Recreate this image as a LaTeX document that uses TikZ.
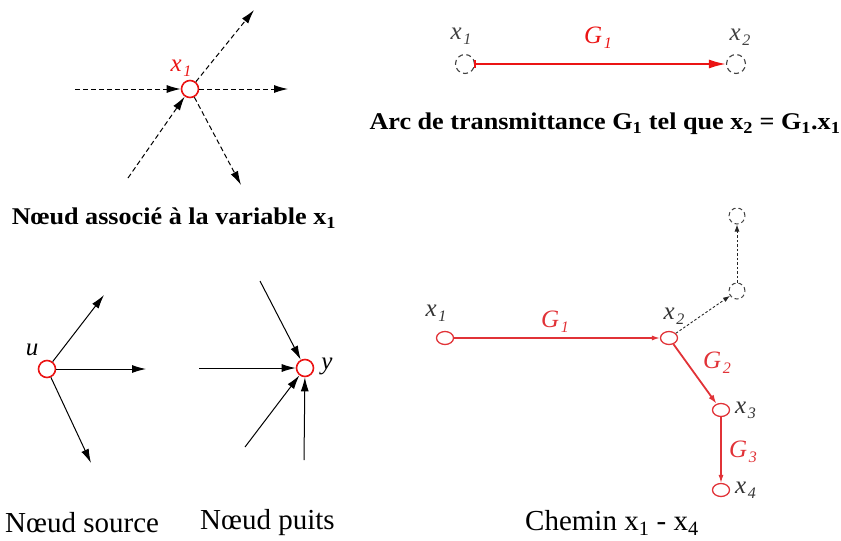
\documentclass[tikz,border=0pt]{standalone}
\usepackage{fontspec}
\setmainfont{Liberation Serif}
\usetikzlibrary{arrows.meta,shapes.geometric}
\definecolor{rd}{RGB}{235,20,20}
\definecolor{rdp}{RGB}{225,50,55}
\newcommand{\vr}[2]{\textit{#1}\kern1.5pt\raisebox{-0.2em}{\fontsize{16}{16}\selectfont\itshape #2}}
\tikzset{
  rnode/.style={circle,draw=rd,line width=1.6pt,minimum size=17pt,inner sep=0pt,fill=white},
  enode/.style={ellipse,draw=rdp,line width=1.3pt,minimum width=17pt,minimum height=13pt,inner sep=0pt},
  dnode/.style={circle,draw=black!75,line width=1.1pt,minimum size=19pt,inner sep=0pt,dash pattern=on 5pt off 3.5pt},
  dsmall/.style={circle,draw=black!75,line width=1pt,minimum size=16pt,inner sep=0pt,dash pattern=on 4pt off 3pt},
  hd/.style={-{Latex[length=14pt,width=8pt]}},
  darr/.style={hd,line width=1pt,dash pattern=on 5pt off 3pt},
  sarr/.style={hd,line width=1pt},
  lbl/.style={font=\fontsize{25}{25}\selectfont,inner sep=0pt},
  captxt/.style={font=\fontsize{24}{24}\selectfont\bfseries,inner sep=0pt,xscale=1.09},
  capn/.style={font=\fontsize{29}{29}\selectfont,inner sep=0pt},
}
\begin{document}
\begin{tikzpicture}[x=1pt,y=-1pt]
\useasboundingbox (0,0) rectangle (841,541);
% Panel 1
\node[rnode] (n1) at (190,89) {};
\node[lbl,text=rd] at (181,68) {\vr{x}{1}};
\coordinate (a1) at (75,89);
\coordinate (a2) at (288,89);
\coordinate (a3) at (254,10);
\coordinate (a4) at (128,178);
\coordinate (a5) at (241,185);
\draw[darr] (a1) -- (n1);
\draw[darr] (n1) -- (a2);
\draw[darr] (n1) -- (a3);
\draw[darr] (a4) -- (n1);
\draw[darr] (n1) -- (a5);
\node[captxt] at (174,218) {Nœud associé à la variable x\textsubscript{1}};
% Panel 2
\node[dnode] (p1) at (465,64) {};
\node[dnode] (p2) at (736,64) {};
\draw[-{Latex[length=17pt,width=9pt]},draw=rd,fill=rd,line width=1.8pt] (p1) -- (p2);
\draw[rd,line width=1.5pt] (p1.east) ++(0,-4) -- ++(0,8);
\node[lbl,text=black!75] at (461,36) {\vr{x}{1}};
\node[lbl,text=rd] at (598,38) {\vr{G}{1}};
\node[lbl,text=black!75] at (740,37) {\vr{x}{2}};
\node[captxt] at (605,124) {Arc de transmittance G\textsubscript{1} tel que x\textsubscript{2} = G\textsubscript{1}.x\textsubscript{1}};
% Panel 3 source
\node[rnode] (u) at (47,369) {};
\node[lbl] at (32,350) {\textit{u}};
\coordinate (b1) at (104,295);
\coordinate (b2) at (146,369);
\coordinate (b3) at (91,463);
\draw[sarr] (u) -- (b1);
\draw[sarr] (u) -- (b2);
\draw[sarr] (u) -- (b3);
% Panel 3 sink
\node[rnode] (y) at (305,368) {};
\node[lbl] at (327,366) {\textit{y}};
\coordinate (c1) at (260,281);
\coordinate (c2) at (199,368);
\coordinate (c3) at (245,447);
\coordinate (c4) at (304,460);
\draw[sarr] (c1) -- (y);
\draw[sarr] (c2) -- (y);
\draw[sarr] (c3) -- (y);
\draw[sarr] (c4) -- (y);
\node[capn,anchor=west] at (5,523) {Nœud source};
\node[capn,anchor=west] at (200,523) {Nœud puits};
% Panel 4
\node[enode] (q1) at (445,338) {};
\node[enode] (q2) at (669,338) {};
\node[enode] (q3) at (721,410) {};
\node[enode] (q4) at (721,490) {};
\node[dsmall] (q5) at (737,291) {};
\node[dsmall] (q6) at (737,216) {};
\draw[-{Latex[length=8pt,width=5pt]},draw=rdp,fill=rdp,line width=1.3pt] (q1) -- (q2);
\draw[-{Latex[length=9pt,width=6pt]},draw=rdp,fill=rdp,line width=1.8pt] (q2) -- (q3);
\draw[-{Latex[length=8pt,width=5pt]},draw=rdp,fill=rdp,line width=1.1pt] (q3) -- (q4);
\draw[-{Latex[length=7pt,width=5pt]},line width=0.9pt,dash pattern=on 2.5pt off 2pt,black!85] (q2) -- (q5);
\draw[-{Latex[length=7pt,width=5pt]},line width=0.9pt,dash pattern=on 2.5pt off 2pt,black!85] (q5) -- (q6);
\node[lbl,text=black!80] at (436,313) {\vr{x}{1}};
\node[lbl,text=rdp] at (555,322) {\vr{G}{1}};
\node[lbl,text=black!80] at (674,316) {\vr{x}{2}};
\node[lbl,text=rdp] at (717,363) {\vr{G}{2}};
\node[lbl,text=black!80,anchor=west] at (735,410) {\vr{x}{3}};
\node[lbl,text=rdp] at (743,452) {\vr{G}{3}};
\node[lbl,text=black!80,anchor=west] at (735,490) {\vr{x}{4}};
\node[capn,anchor=west] at (525,523) {Chemin x\textsubscript{1} - x\textsubscript{4}};
\end{tikzpicture}
\end{document}
